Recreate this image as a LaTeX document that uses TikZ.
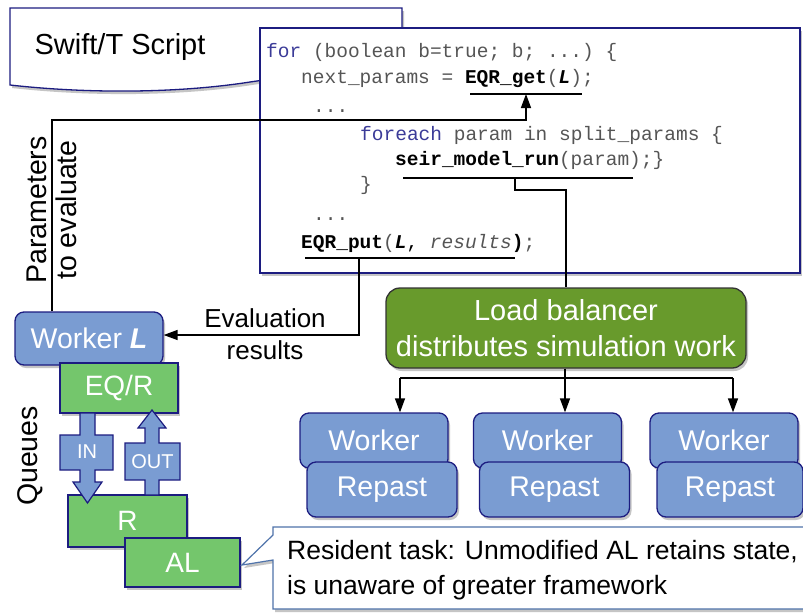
\documentclass[tikz,border=0pt]{standalone}
\usepackage{fontspec}
\setmainfont{Liberation Sans}
\setmonofont{Liberation Mono}
\usetikzlibrary{arrows.meta,shadows}
\definecolor{navy}{HTML}{1C1C80}
\definecolor{wblue}{HTML}{7A9CD2}
\definecolor{qgreen}{HTML}{74C66C}
\definecolor{lbgreen}{HTML}{689A2C}
\definecolor{kw}{HTML}{3B3B98}
\definecolor{codegray}{HTML}{555555}
\definecolor{callblue}{HTML}{4F73AA}
\tikzset{
 shad/.style={drop shadow={shadow xshift=2pt,shadow yshift=-3pt,fill=black!45,opacity=.5}},
 bluebox/.style={draw=navy,line width=1.3pt,fill=wblue,rounded corners=9pt,text=white,
   font=\fontsize{28.5}{32}\selectfont,shad,inner sep=0pt},
 greenbox/.style={draw=navy,line width=1.3pt,fill=qgreen,text=white,
   font=\fontsize{28}{32}\selectfont,shad,inner sep=0pt},
 qarrow/.style={draw=navy,line width=1.2pt,fill=wblue},
 qlabel/.style={text=white,font=\fontsize{20}{22}\selectfont,inner sep=0pt},
 conn/.style={line width=1.4pt,black},
 arr/.style={conn,-{Triangle[length=14pt,width=10pt]}},
 code/.style={anchor=base west,inner sep=0pt,text=codegray,
   font=\fontsize{19.5}{22}\selectfont\ttfamily\frenchspacing},
 lbl/.style={font=\fontsize{28.5}{30}\selectfont,align=center,inner sep=0pt},
}
\begin{document}
\begin{tikzpicture}[x=1pt,y=-1pt]
\useasboundingbox (0,0) rectangle (803,614);
\fill[white] (0,0) rectangle (803,614);

% Swift/T document shape
\path[draw=navy,line width=1.3pt,fill=white,shad]
  (10,8) -- (402,8) -- (402,78) .. controls (340,72) and (290,76) .. (250,82)
  .. controls (180,93) and (90,94) .. (10,85) -- cycle;
\node[lbl,font=\fontsize{29}{32}\selectfont] (swift) at (120,47) {Swift/T Script};

% code box
\node[draw=navy,line width=1.3pt,fill=white,shad,minimum width=540pt,minimum height=245pt,
  inner sep=0pt] (codebox) at (530,150.5) {};
\node[code] (c1) at (266,57) {\textcolor{kw}{for} (boolean b=true; b; ...) \{};
\node[code] (c2) at (301,83) {next\_params = \textcolor{black}{\textbf{EQR\_get}}(\textcolor{black}{\textbf{\textit{L}}});};
\node[code] (c3) at (313,112) {...};
\node[code] (c4) at (360,140) {\textcolor{kw}{foreach} param in split\_params \{};
\node[code] (c5) at (395,165) {\textcolor{black}{\textbf{seir\_model\_run}}(param);\}};
\node[code] (c6) at (360,190) {\}};
\node[code] (c7) at (313,220) {...};
\node[code] (c8) at (301,248) {\textcolor{black}{\textbf{EQR\_put}}(\textcolor{black}{\textbf{\textit{L}},} \textit{results}\textcolor{black}{\textbf{)}};};

% underline anchors
\coordinate (getL) at (470,94);  \coordinate (getR) at (582,94);
\coordinate (seirL) at (403,178); \coordinate (seirR) at (633,178);
\coordinate (putL) at (305,258);  \coordinate (putR) at (515,258);
\draw[conn] (getL) -- (getR);
\draw[conn] (seirL) -- (seirR);
\draw[conn] (putL) -- (putR);

% Load balancer
\node[draw=black!80,line width=1.3pt,fill=lbgreen,rounded corners=14pt,text=white,shad,
  minimum width=360pt,minimum height=80pt,inner sep=0pt,align=center,
  font=\fontsize{29}{36}\selectfont] (lb) at (566,328) {Load balancer\\distributes simulation work};

% Worker / Repast stacks
\node[bluebox,minimum width=148pt,minimum height=55pt] (w1) at (374,440.5) {Worker};
\node[bluebox,minimum width=150pt,minimum height=55pt] (r1) at (382,489.5) {Repast};
\node[bluebox,minimum width=148pt,minimum height=55pt] (w2) at (547.5,440.5) {Worker};
\node[bluebox,minimum width=150pt,minimum height=55pt] (r2) at (554.5,489.5) {Repast};
\node[bluebox,minimum width=148pt,minimum height=55pt] (w3) at (724,440.5) {Worker};
\node[bluebox,minimum width=146pt,minimum height=55pt] (r3) at (730,489.5) {Repast};

% Worker L and queues
\node[bluebox,minimum width=148pt,minimum height=53pt] (wl) at (89,338.5) {Worker \textbf{\textit{L}}};
\node[greenbox,minimum width=118pt,minimum height=50pt] (eqr) at (119,388) {EQ/R};
\node[greenbox,minimum width=119pt,minimum height=52pt] (rb) at (127.5,521) {R};
\path[qarrow] (80,413) -- (95,413) -- (95,435) -- (113,435) -- (113,470) -- (95,470)
  -- (95,482) -- (102,482) -- (87.5,503) -- (73,482) -- (80,482) -- (80,470)
  -- (60,470) -- (60,435) -- (80,435) -- cycle;
\path[qarrow] (145,495) -- (145,480) -- (125,480) -- (125,443) -- (145,443) -- (145,428)
  -- (138,428) -- (152,410) -- (166,428) -- (159,428) -- (159,443) -- (180,443)
  -- (180,480) -- (159,480) -- (159,495) -- cycle;
\node[qlabel] (inl) at (87,452) {IN};
\node[qlabel] (outl) at (152.5,462) {OUT};
\node[greenbox,minimum width=115pt,minimum height=49pt] (al) at (182.5,562.5) {AL};

\node[lbl,rotate=90] (queues) at (30,456) {Queues};
\node[lbl,rotate=90] (params) at (52,210) {Parameters\\to evaluate};
\node[lbl,font=\fontsize{26}{32}\selectfont] (evres) at (265,334) {Evaluation\\results};

% callout
\path[draw=callblue,line width=1.2pt,fill=white,shad]
  (273,527) -- (815,527) -- (815,609) -- (273,609) -- (273,560) -- (242,565)
  -- (273,535) -- cycle;
\node[anchor=west,align=left,inner sep=0pt,font=\fontsize{26.5}{35}\selectfont] (res)
  at (287,570) {Resident task: Unmodified AL retains state,\\is unaware of greater framework};

% connectors
\coordinate (p1) at (52,120);
\coordinate (p2) at (526,120);
\draw[arr] (wl.north -| p1) -- (p1) -- (p2) -- (p2 |- getL);
\coordinate (e1) at (359,335);
\draw[arr] (putL -| e1) -- (e1) -- (wl.east |- e1);
\coordinate (s1) at (515,190);
\coordinate (s2) at (566,190);
\draw[conn] (seirL -| s1) -- (s1) -- (s2) -- (lb.north -| s2);
\coordinate (d1) at (400,378);
\coordinate (d2) at (565,378);
\coordinate (d3) at (733,378);
\draw[conn] (lb.south -| d2) -- (d2);
\draw[conn] (d1) -- (d3);
\draw[arr] (d1) -- (w1.north -| d1);
\draw[arr] (d2) -- (w2.north -| d2);
\draw[arr] (d3) -- (w3.north -| d3);
\end{tikzpicture}
\end{document}
